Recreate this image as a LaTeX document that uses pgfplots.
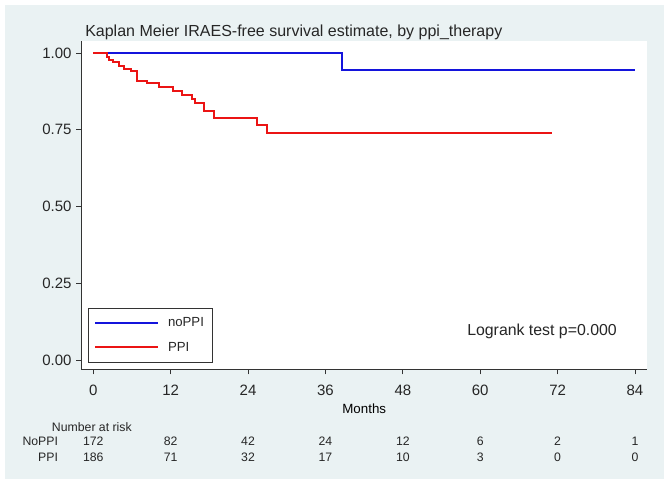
\documentclass[border=0pt]{standalone}
\usepackage{fontspec}
\setmainfont{Liberation Sans}
\usepackage{pgfplots}
\pgfplotsset{compat=1.18}
\definecolor{bgc}{RGB}{234,242,243}
\definecolor{kmblue}{RGB}{20,20,220}
\definecolor{kmred}{RGB}{235,20,20}
\begin{document}
\begin{tikzpicture}
\fill[white] (0,0) rectangle (501.75pt,363pt);
\fill[bgc] (3.75pt,3.75pt) rectangle (498pt,359.25pt);
\node[anchor=base west, inner sep=0pt, font=\fontsize{12}{14}\selectfont, text=black!85] at (63.75pt,335.25pt) {Kaplan Meier IRAES-free survival estimate, by ppi\_therapy};
\begin{axis}[
 at={(61.125pt,86.25pt)}, anchor=south west,
 scale only axis, width=424.125pt, height=246pt,
 xmin=-1.83, xmax=85.86, ymin=-0.0293, ymax=1.039,
 axis x line*=bottom, axis y line*=left,
 axis line style={black!80, line width=0.6pt, -},
 axis background/.style={fill=white},
 xtick={0,12,24,36,48,60,72,84}, ytick={0,0.25,0.5,0.75,1},
 tick align=outside, major tick length=4pt,
 tick style={black!80, line width=0.6pt},
 /pgf/number format/assume math mode=true,
 yticklabel={\pgfmathprintnumber[fixed,fixed zerofill,precision=2,assume math mode=true]{\tick}},
 yticklabel style={font=\fontsize{11.25}{13}\selectfont, text=black!85},
 xticklabel style={font=\fontsize{11.25}{13}\selectfont, text=black!85, yshift=-4.5pt},
 xlabel={Months},
 xlabel style={font=\fontsize{12}{14}\selectfont, text=black!85},
 every axis x label/.style={at={(axis description cs:0.5,-0.135)}, anchor=base},
 clip=false,
 legend style={at={(0.012,0.019)}, anchor=south west, draw=black!80, line width=0.6pt,
   font=\fontsize{9.9}{11}\selectfont, inner xsep=4pt, inner ysep=5pt, row sep=6pt,
   cells={anchor=west}, text=black!85,
   /tikz/every odd column/.append style={column sep=5pt}},
 legend image code/.code={\draw[#1, line width=1.5pt] (0pt,0pt) -- (47pt,0pt);},
]
\addplot[const plot, kmblue, line width=1.5pt] coordinates {(0,1) (38.61,0.945) (84,0.945)};
\addlegendentry{noPPI}
\addplot[const plot, kmred, line width=1.5pt] coordinates {
(0,1.0) (2.05,0.988) (2.51,0.976) (3.05,0.969) (4.06,0.956) (4.76,0.949) (5.77,0.941)
(6.73,0.910) (8.28,0.901) (10.23,0.890) (12.36,0.876) (13.71,0.862) (15.23,0.849)
(15.77,0.836) (17.09,0.812) (18.64,0.788) (25.46,0.764) (26.86,0.740) (71.08,0.740)};
\addlegendentry{PPI}
\node[anchor=base west, font=\fontsize{11.9}{14}\selectfont, text=black!85, inner sep=0pt] at (axis cs:57.95,0.0814) {Logrank test p=0.000};
\begin{scope}[every node/.style={font=\fontsize{9.2}{10}\selectfont, text=black!85, inner sep=0pt}]
\node[anchor=base west] at (axis cs:-6.45,-0.232) {Number at risk};
\node[anchor=base east] at (axis cs:-5.43,-0.280) {NoPPI};
\node[anchor=base east] at (axis cs:-5.43,-0.330) {PPI};
\node[anchor=base] at (axis cs:0,-0.280) {172};
\node[anchor=base] at (axis cs:12,-0.280) {82};
\node[anchor=base] at (axis cs:24,-0.280) {42};
\node[anchor=base] at (axis cs:36,-0.280) {24};
\node[anchor=base] at (axis cs:48,-0.280) {12};
\node[anchor=base] at (axis cs:60,-0.280) {6};
\node[anchor=base] at (axis cs:72,-0.280) {2};
\node[anchor=base] at (axis cs:84,-0.280) {1};
\node[anchor=base] at (axis cs:0,-0.330) {186};
\node[anchor=base] at (axis cs:12,-0.330) {71};
\node[anchor=base] at (axis cs:24,-0.330) {32};
\node[anchor=base] at (axis cs:36,-0.330) {17};
\node[anchor=base] at (axis cs:48,-0.330) {10};
\node[anchor=base] at (axis cs:60,-0.330) {3};
\node[anchor=base] at (axis cs:72,-0.330) {0};
\node[anchor=base] at (axis cs:84,-0.330) {0};
\end{scope}
\end{axis}
\end{tikzpicture}
\end{document}
